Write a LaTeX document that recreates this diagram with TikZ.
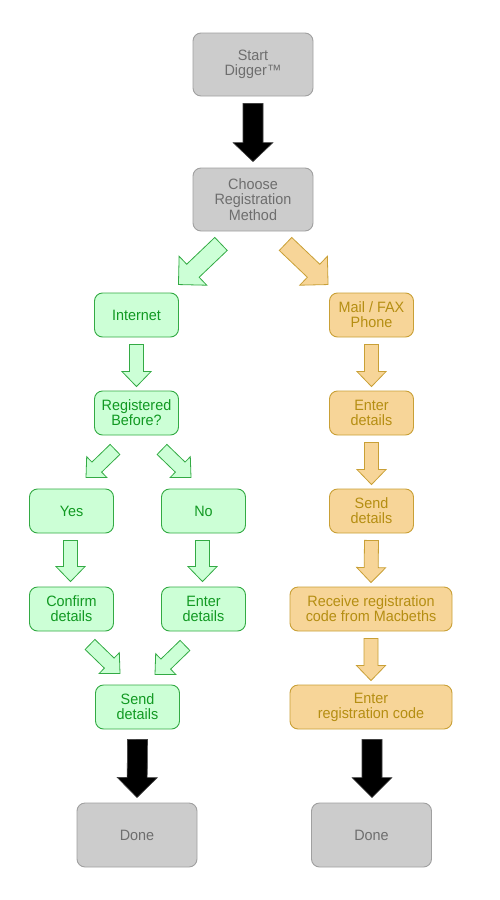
\documentclass[tikz,border=0pt]{standalone}
\usepackage{fontspec}
\setmainfont{Liberation Sans}[FakeStretch=0.96]
\usetikzlibrary{calc}
\definecolor{grayfill}{HTML}{CCCCCC}
\definecolor{grayline}{HTML}{A0A0A0}
\definecolor{graytext}{HTML}{6E6E6E}
\definecolor{greenfill}{HTML}{CCFFD6}
\definecolor{greenline}{HTML}{33AA44}
\definecolor{greentext}{HTML}{119922}
\definecolor{tanfill}{HTML}{F7D598}
\definecolor{tanline}{HTML}{C9A036}
\definecolor{tantext}{HTML}{B58E12}
\tikzset{
 box/.style={rounded corners=8pt, align=center, inner sep=0pt, line width=0.9pt, font=\fontsize{15}{15}\selectfont},
 graybox/.style={box, fill=grayfill, draw=grayline, text=graytext, minimum width=120pt, minimum height=63pt, font=\fontsize{15}{15.5}\selectfont},
 greenbox/.style={box, fill=greenfill, draw=greenline, text=greentext, minimum width=84pt, minimum height=44pt},
 tanbox/.style={box, fill=tanfill, draw=tanline, text=tantext, minimum width=84pt, minimum height=44pt},
 blackarrow/.style={fill=black, draw=black!75, line width=0.6pt},
 greenarrow/.style={fill=greenfill, draw=greenline, line width=0.8pt},
 tanarrow/.style={fill=tanfill, draw=tanline, line width=0.8pt},
}
% style, from, to, shaft half width, head half width, head length
\newcommand\fatarrow[6]{%
 \path[#1] let \p1=(#2), \p2=(#3), \n1={atan2(\y2-\y1,\x2-\x1)}, \n2={veclen(\x2-\x1,\y2-\y1)-#6} in
 ($(\p1)+(\n1+90:#4)$) -- ($(\p1)+(\n1:\n2)+(\n1+90:#4)$) -- ($(\p1)+(\n1:\n2)+(\n1+90:#5)$) -- (\p2)
 -- ($(\p1)+(\n1:\n2)+(\n1-90:#5)$) -- ($(\p1)+(\n1:\n2)+(\n1-90:#4)$) -- ($(\p1)+(\n1-90:#4)$) -- cycle;}
\begin{document}
\begin{tikzpicture}[x=1pt,y=1pt]
\useasboundingbox (0,0) rectangle (500,-900);
% nodes
\node[graybox] (start) at (253,-64.5) {Start\\Digger™};
\node[graybox] (choose) at (253,-199.5) {Choose\\Registration\\Method};
\node[greenbox] (internet) at (136.5,-315) {Internet};
\node[tanbox] (mail) at (371.5,-315) {Mail / FAX\\Phone};
\node[greenbox] (registered) at (136.5,-413) {Registered\\Before?};
\node[tanbox] (enterT) at (371.5,-413) {Enter\\details};
\node[greenbox] (yes) at (71.5,-511) {Yes};
\node[greenbox] (no) at (203.5,-511) {No};
\node[tanbox] (sendT) at (371.5,-511) {Send\\details};
\node[greenbox] (confirm) at (71.5,-609) {Confirm\\details};
\node[greenbox] (enterG) at (203.5,-609) {Enter\\details};
\node[tanbox, minimum width=162pt] (receive) at (371,-609) {Receive registration\\code from Macbeths};
\node[greenbox] (sendG) at (137.5,-707) {Send\\details};
\node[tanbox, minimum width=162pt] (code) at (371,-707) {Enter\\registration code};
\node[graybox, minimum height=64pt] (doneL) at (137,-835) {Done};
\node[graybox, minimum height=64pt] (doneR) at (371.5,-835) {Done};
% connectors
\fatarrow{blackarrow}{$(start.south)+(0,-7)$}{$(choose.north)+(0,6)$}{10}{20}{19}
\fatarrow{greenarrow}{$(choose.south)+(-32,-12.5)$}{$(internet.north east)+(-0.5,8)$}{9}{20}{20}
\fatarrow{tanarrow}{$(choose.south)+(32.5,-12.5)$}{$(mail.north west)+(-1,8)$}{9}{20}{20}
\fatarrow{greenarrow}{$(internet.south)+(0,-7)$}{$(registered.north)+(0,4)$}{7}{14.5}{15}
\fatarrow{tanarrow}{$(mail.south)+(0,-7)$}{$(enterT.north)+(0,4)$}{7}{14.5}{15}
\fatarrow{tanarrow}{$(enterT.south)+(0,-7)$}{$(sendT.north)+(0,4)$}{7}{14.5}{15}
\fatarrow{tanarrow}{$(sendT.south)+(0,-7)$}{$(receive.north)+(0,4)$}{7}{14.5}{15}
\fatarrow{tanarrow}{$(receive.south)+(0,-7)$}{$(code.north)+(0,4)$}{7}{14.5}{15}
\fatarrow{greenarrow}{$(registered.south)+(-21.5,-14)$}{$(yes.north)+(14.5,11)$}{7}{14.5}{15}
\fatarrow{greenarrow}{$(registered.south)+(25.5,-14)$}{$(no.north)+(-12.5,11)$}{7}{14.5}{15}
\fatarrow{greenarrow}{$(yes.south)+(-1,-7)$}{$(confirm.north)+(-1,5)$}{7}{14.5}{15}
\fatarrow{greenarrow}{$(no.south)+(-1,-7)$}{$(enterG.north)+(-1,5)$}{7}{14.5}{15}
\fatarrow{greenarrow}{$(confirm.south)+(18.5,-13)$}{$(sendG.north)+(-17.5,11)$}{7}{14.5}{15}
\fatarrow{greenarrow}{$(enterG.south)+(-18.5,-14)$}{$(sendG.north)+(17.5,10)$}{7}{14.5}{15}
\fatarrow{blackarrow}{$(sendG.south)+(0,-10)$}{$(doneL.north)+(0,5)$}{10}{20}{20}
\fatarrow{blackarrow}{$(code.south)+(1,-10)$}{$(doneR.north)+(0.5,5)$}{10}{20}{20}
\end{tikzpicture}
\end{document}
